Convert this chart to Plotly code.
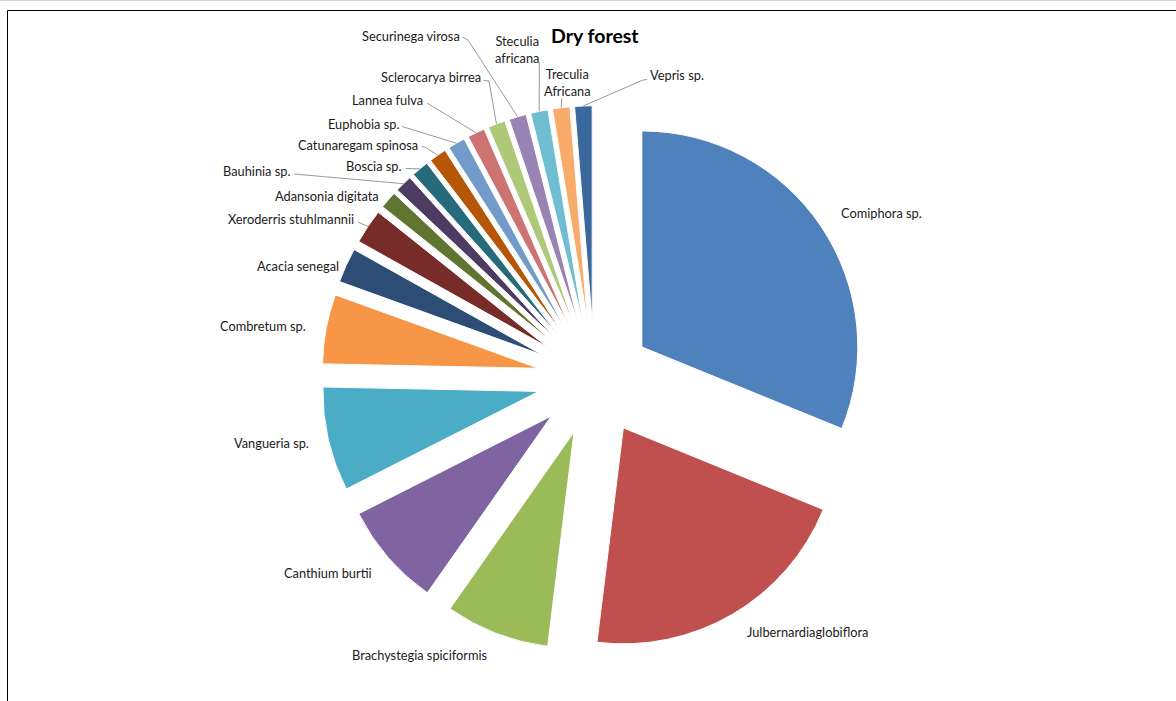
import math
import plotly.graph_objects as go

# Tree counts per species in the dry forest plot
species = [
    "Comiphora sp.", "Julbernardiaglobiflora", "Brachystegia spiciformis",
    "Canthium burtii", "Vangueria sp.", "Combretum sp.", "Acacia senegal",
    "Xeroderris stuhlmannii", "Adansonia digitata", "Bauhinia sp.",
    "Boscia sp.", "Catunaregam spinosa", "Euphobia sp.", "Lannea fulva",
    "Sclerocarya birrea", "Securinega virosa", "Steculia<br>africana",
    "Treculia<br>Africana", "Vepris sp.",
]
counts = [24, 16, 6, 6, 6, 4, 2, 2, 1, 1, 1, 1, 1, 1, 1, 1, 1, 1, 1]

colors = [
    "#4F81BD", "#C0504D", "#9BBB59", "#8064A2", "#4BACC6", "#F79646",
    "#2C4D75", "#772C2A", "#5F7530", "#4D3B62", "#276A7C", "#B65708",
    "#729ACA", "#CD7371", "#AFC97A", "#9983B5", "#6FBDD1", "#F9AB6B",
    "#3A679C",
]

W, H = 1176, 701
CX, CY = 594.5, 378.7      # pie centre in pixels
R = 216.0                  # pie radius in pixels
PULL = 57.0 / R            # explode distance as fraction of radius


def px(x):
    return x / W


def py(y):
    return 1 - y / H


# label anchor (x, centre y, horizontal anchor) in pixels, plus leader-line bend points
label_pos = {
    "Comiphora sp.": (839, 213, "left", None),
    "Julbernardiaglobiflora": (745, 632, "left", None),
    "Brachystegia spiciformis": (420, 655, "center", None),
    "Canthium burtii": (374, 573, "right", None),
    "Vangueria sp.": (311, 443, "right", None),
    "Combretum sp.": (308, 326, "right", None),
    "Acacia senegal": (341.5, 266, "right", None),
    "Xeroderris stuhlmannii": (356, 219, "right", [(358, 222)]),
    "Adansonia digitata": (381, 196, "right", None),
    "Bauhinia sp.": (292, 171, "right", [(294, 174)]),
    "Boscia sp.": (404, 166, "right", [(406, 168.5)]),
    "Catunaregam spinosa": (419.5, 145, "right", [(421.5, 146.5), (425, 147)]),
    "Euphobia sp.": (401, 123.5, "right", [(402, 126.5)]),
    "Lannea fulva": (425, 100, "right", [(427, 103)]),
    "Sclerocarya birrea": (483, 77, "right", [(483.5, 80.5), (489, 81)]),
    "Securinega virosa": (461.5, 36.5, "right", [(462.5, 37), (468, 40)]),
    "Steculia<br>africana": (516.5, 50, "center", [(539.3, 62)]),
    "Treculia<br>Africana": (567, 82, "center", [(561.7, 98.5)]),
    "Vepris sp.": (648, 75, "left", [(647, 79.5), (643, 80)]),
}

half = R * (1 + PULL)
fig = go.Figure(
    go.Pie(
        labels=species,
        values=counts,
        sort=False,
        direction="clockwise",
        rotation=0,
        pull=PULL,
        marker=dict(colors=colors, line=dict(color="white", width=1)),
        textinfo="none",
        hoverinfo="label+value+percent",
        showlegend=False,
        domain=dict(
            x=[px(CX - half), px(CX + half)],
            y=[py(CY + half), py(CY - half)],
        ),
    )
)

# outer-arc midpoint of each exploded slice, from the cumulative counts
total = sum(counts)
arc_mid = []
acc = 0
for c in counts:
    mid = (acc + c / 2) / total * 2 * math.pi
    ux, uy = math.sin(mid), -math.cos(mid)
    d = R * PULL + R
    arc_mid.append((CX + d * ux, CY + d * uy))
    acc += c

annotations = []
shapes = []
for idx, name in enumerate(species):
    ax, ay, anchor, bends = label_pos[name]
    annotations.append(dict(
        x=px(ax), y=py(ay), xref="paper", yref="paper",
        text=name, showarrow=False,
        xanchor=anchor, yanchor="middle", align="center",
        font=dict(family="Lato, sans-serif", size=12.8, color="#1a1a1a"),
    ))
    if bends:
        pts = list(bends) + [arc_mid[idx]]
        path = "M " + " L ".join(f"{px(x)},{py(y)}" for x, y in pts)
        shapes.append(dict(type="path", xref="paper", yref="paper", path=path,
                           line=dict(color="#9a9a9a", width=1)))

annotations.append(dict(
    x=px(595), y=py(35), xref="paper", yref="paper", text="<b>Dry forest</b>",
    showarrow=False, xanchor="center", yanchor="middle",
    font=dict(family="Lato, sans-serif", size=19.5, color="#000000"),
))

# chart frame
shapes.append(dict(type="line", xref="paper", yref="paper",
                   x0=0, x1=1, y0=py(0.5), y1=py(0.5),
                   line=dict(color="#d4d4d4", width=1)))
shapes.append(dict(type="rect", xref="paper", yref="paper",
                   x0=px(7.5), x1=px(W + 5), y0=py(H + 5), y1=py(10.5),
                   line=dict(color="#000000", width=1)))

fig.update_layout(
    width=W, height=H,
    margin=dict(l=0, r=0, t=0, b=0),
    paper_bgcolor="white", plot_bgcolor="white",
    annotations=annotations, shapes=shapes,
)

fig.write_html("out.html")
